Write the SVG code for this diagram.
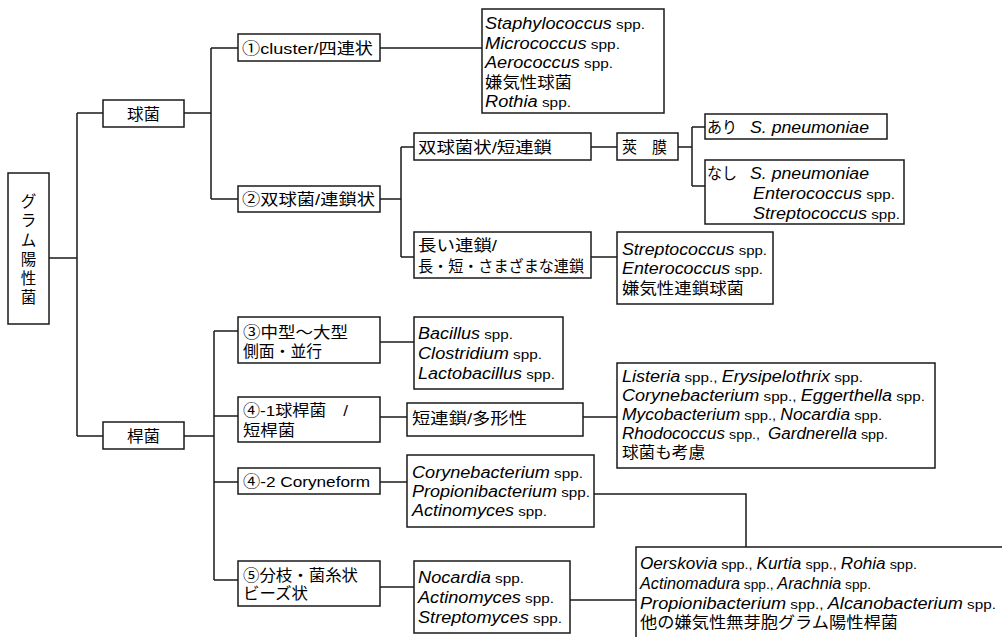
<svg xmlns="http://www.w3.org/2000/svg" width="1002" height="637" viewBox="0 0 1002 637">
<style>
.b{fill:#fff;stroke:#1a1a1a;stroke-width:1.5}
.c{fill:none;stroke:#1a1a1a;stroke-width:1.5}
.j{font-family:"Liberation Sans","Noto Sans CJK JP","Noto Sans CJK SC",sans-serif;font-size:15.5px;fill:#000}
.l{font-family:"Liberation Sans",Arial,sans-serif;font-size:16px;fill:#000}
.i{font-style:italic}
.s{font-size:13.5px;font-style:normal}
</style>
<rect x="0" y="0" width="1002" height="637" fill="#fff"/>
<g id="connectors" class="c">
<path d="M49,258H77M77,113V436M77,113H103M77,436H103"/>
<path d="M184,113H211M211,48V199M211,48H238M211,199H238"/>
<path d="M380,48H482"/>
<path d="M380,199H401M401,147V257M401,147H414M401,257H414"/>
<path d="M591,147H617M678,147H692M692,127V186M692,127H705M692,186H705"/>
<path d="M591,257H617"/>
<path d="M184,436H214M214,331V580M214,331H238M214,416H238M214,482H238M214,580H238"/>
<path d="M380,342H414"/>
<path d="M380,417H407M583,417H617"/>
<path d="M380,482H407"/>
<path d="M594,494H746V547"/>
<path d="M380,587H414"/>
<path d="M570,600H636"/>
</g>
<g id="n-root">
<rect class="b" x="8" y="173" width="41" height="151"/>
<text class="j" font-size="16" text-anchor="middle"><tspan x="28.5" y="207">グ</tspan><tspan x="28.5" y="226">ラ</tspan><tspan x="28.5" y="246">ム</tspan><tspan x="28.5" y="265">陽</tspan><tspan x="28.5" y="284">性</tspan><tspan x="28.5" y="303">菌</tspan></text>
</g>
<g id="n-kyukin">
<rect class="b" x="103" y="100" width="81" height="27"/>
<text class="j" x="127" y="119.5" textLength="33" lengthAdjust="spacingAndGlyphs">球菌</text>
</g>
<g id="n-kankin">
<rect class="b" x="103" y="422" width="81" height="27"/>
<text class="j" x="127" y="442" textLength="33" lengthAdjust="spacingAndGlyphs">桿菌</text>
</g>
<g id="n-c1">
<rect class="b" x="238" y="34" width="142" height="27"/>
<text class="j" x="242" y="54" textLength="131" lengthAdjust="spacingAndGlyphs">①cluster/四連状</text>
</g>
<g id="n-c1-res">
<rect class="b" x="482" y="9" width="182" height="104"/>
<text class="l" x="485" y="29" textLength="160" lengthAdjust="spacingAndGlyphs"><tspan class="i">Staphylococcus</tspan><tspan class="s"> spp.</tspan></text>
<text class="l" x="485" y="49" textLength="135" lengthAdjust="spacingAndGlyphs"><tspan class="i">Micrococcus</tspan><tspan class="s"> spp.</tspan></text>
<text class="l" x="485" y="68" textLength="128" lengthAdjust="spacingAndGlyphs"><tspan class="i">Aerococcus</tspan><tspan class="s"> spp.</tspan></text>
<text class="j" x="485" y="88" textLength="87" lengthAdjust="spacingAndGlyphs">嫌気性球菌</text>
<text class="l" x="485" y="107" textLength="86" lengthAdjust="spacingAndGlyphs"><tspan class="i">Rothia</tspan><tspan class="s"> spp.</tspan></text>
</g>
<g id="n-c2">
<rect class="b" x="238" y="186" width="142" height="26"/>
<text class="j" x="242" y="205" textLength="133" lengthAdjust="spacingAndGlyphs">②双球菌/連鎖状</text>
</g>
<g id="n-c2a">
<rect class="b" x="414" y="133" width="177" height="27"/>
<text class="j" x="418" y="153" textLength="134" lengthAdjust="spacingAndGlyphs">双球菌状/短連鎖</text>
</g>
<g id="n-kyomaku">
<rect class="b" x="617" y="133" width="61" height="27"/>
<text class="j" x="622" y="153" textLength="45" lengthAdjust="spacingAndGlyphs">莢　膜</text>
</g>
<g id="n-ari">
<rect class="b" x="705" y="114" width="182" height="25"/>
<text class="j" x="707" y="133" textLength="30" lengthAdjust="spacingAndGlyphs">あり</text>
<text class="l i" x="750" y="133" textLength="119" lengthAdjust="spacingAndGlyphs">S. pneumoniae</text>
</g>
<g id="n-nashi">
<rect class="b" x="705" y="160" width="199" height="64"/>
<text class="j" x="707" y="179" textLength="30" lengthAdjust="spacingAndGlyphs">なし</text>
<text class="l i" x="750" y="179" textLength="119" lengthAdjust="spacingAndGlyphs">S. pneumoniae</text>
<text class="l" x="753" y="199" textLength="142" lengthAdjust="spacingAndGlyphs"><tspan class="i">Enterococcus</tspan><tspan class="s"> spp.</tspan></text>
<text class="l" x="753" y="219" textLength="147" lengthAdjust="spacingAndGlyphs"><tspan class="i">Streptococcus</tspan><tspan class="s"> spp.</tspan></text>
</g>
<g id="n-c2b">
<rect class="b" x="414" y="232" width="177" height="46"/>
<text class="j" x="418" y="251" textLength="79" lengthAdjust="spacingAndGlyphs">長い連鎖/</text>
<text class="j" x="418" y="272" textLength="166" lengthAdjust="spacingAndGlyphs">長・短・さまざまな連鎖</text>
</g>
<g id="n-c2b-res">
<rect class="b" x="617" y="232" width="156" height="72"/>
<text class="l" x="622" y="255" textLength="145" lengthAdjust="spacingAndGlyphs"><tspan class="i">Streptococcus</tspan><tspan class="s"> spp.</tspan></text>
<text class="l" x="622" y="274" textLength="141" lengthAdjust="spacingAndGlyphs"><tspan class="i">Enterococcus</tspan><tspan class="s"> spp.</tspan></text>
<text class="j" x="622" y="294" textLength="122" lengthAdjust="spacingAndGlyphs">嫌気性連鎖球菌</text>
</g>
<g id="n-r3">
<rect class="b" x="238" y="317" width="142" height="46"/>
<text class="j" x="243" y="338" textLength="105" lengthAdjust="spacingAndGlyphs">③中型～大型</text>
<text class="j" x="243" y="357" textLength="79" lengthAdjust="spacingAndGlyphs">側面・並行</text>
</g>
<g id="n-r3-res">
<rect class="b" x="414" y="317" width="149" height="72"/>
<text class="l" x="418" y="339" textLength="95" lengthAdjust="spacingAndGlyphs"><tspan class="i">Bacillus</tspan><tspan class="s"> spp.</tspan></text>
<text class="l" x="418" y="359" textLength="124" lengthAdjust="spacingAndGlyphs"><tspan class="i">Clostridium</tspan><tspan class="s"> spp.</tspan></text>
<text class="l" x="418" y="379" textLength="137" lengthAdjust="spacingAndGlyphs"><tspan class="i">Lactobacillus</tspan><tspan class="s"> spp.</tspan></text>
</g>
<g id="n-r41">
<rect class="b" x="238" y="397" width="142" height="45"/>
<text class="j" x="243" y="416" textLength="105" lengthAdjust="spacingAndGlyphs">④-1球桿菌　/</text>
<text class="j" x="243" y="436" textLength="52" lengthAdjust="spacingAndGlyphs">短桿菌</text>
</g>
<g id="n-r41-mid">
<rect class="b" x="407" y="403" width="176" height="33"/>
<text class="j" x="412" y="424" textLength="115" lengthAdjust="spacingAndGlyphs">短連鎖/多形性</text>
</g>
<g id="n-r41-res">
<rect class="b" x="617" y="363" width="318" height="105"/>
<text class="l" x="622" y="382" textLength="241" lengthAdjust="spacingAndGlyphs"><tspan class="i">Listeria</tspan><tspan class="s"> spp., </tspan><tspan class="i">Erysipelothrix</tspan><tspan class="s"> spp.</tspan></text>
<text class="l" x="622" y="401" textLength="303" lengthAdjust="spacingAndGlyphs"><tspan class="i">Corynebacterium</tspan><tspan class="s"> spp., </tspan><tspan class="i">Eggerthella</tspan><tspan class="s"> spp.</tspan></text>
<text class="l" x="622" y="420" textLength="260" lengthAdjust="spacingAndGlyphs"><tspan class="i">Mycobacterium</tspan><tspan class="s"> spp., </tspan><tspan class="i">Nocardia</tspan><tspan class="s"> spp.</tspan></text>
<text class="l" x="622" y="439" textLength="266" lengthAdjust="spacingAndGlyphs" xml:space="preserve"><tspan class="i">Rhodococcus</tspan><tspan class="s"> spp.,  </tspan><tspan class="i">Gardnerella</tspan><tspan class="s"> spp.</tspan></text>
<text class="j" x="622" y="458" textLength="83" lengthAdjust="spacingAndGlyphs">球菌も考慮</text>
</g>
<g id="n-r42">
<rect class="b" x="238" y="468" width="142" height="26"/>
<text class="j" x="243" y="487" textLength="127" lengthAdjust="spacingAndGlyphs">④-2 Coryneform</text>
</g>
<g id="n-r42-res">
<rect class="b" x="407" y="455" width="187" height="72"/>
<text class="l" x="412" y="478" textLength="171" lengthAdjust="spacingAndGlyphs"><tspan class="i">Corynebacterium</tspan><tspan class="s"> spp.</tspan></text>
<text class="l" x="412" y="497" textLength="178" lengthAdjust="spacingAndGlyphs"><tspan class="i">Propionibacterium</tspan><tspan class="s"> spp.</tspan></text>
<text class="l" x="412" y="516" textLength="135" lengthAdjust="spacingAndGlyphs"><tspan class="i">Actinomyces</tspan><tspan class="s"> spp.</tspan></text>
</g>
<g id="n-r5">
<rect class="b" x="238" y="561" width="142" height="45"/>
<text class="j" x="243" y="581" textLength="115" lengthAdjust="spacingAndGlyphs">⑤分枝・菌糸状</text>
<text class="j" x="243" y="599" textLength="65" lengthAdjust="spacingAndGlyphs">ビーズ状</text>
</g>
<g id="n-r5-res">
<rect class="b" x="414" y="561" width="156" height="72"/>
<text class="l" x="418" y="583" textLength="106" lengthAdjust="spacingAndGlyphs"><tspan class="i">Nocardia</tspan><tspan class="s"> spp.</tspan></text>
<text class="l" x="418" y="603" textLength="136" lengthAdjust="spacingAndGlyphs"><tspan class="i">Actinomyces</tspan><tspan class="s"> spp.</tspan></text>
<text class="l" x="418" y="623" textLength="144" lengthAdjust="spacingAndGlyphs"><tspan class="i">Streptomyces</tspan><tspan class="s"> spp.</tspan></text>
</g>
<g id="n-other">
<rect class="b" x="636" y="547" width="400" height="120"/>
<text class="l" x="640" y="569" textLength="277" lengthAdjust="spacingAndGlyphs"><tspan class="i">Oerskovia</tspan><tspan class="s"> spp., </tspan><tspan class="i">Kurtia</tspan><tspan class="s"> spp., </tspan><tspan class="i">Rohia</tspan><tspan class="s"> spp.</tspan></text>
<text class="l" x="640" y="589" textLength="231" lengthAdjust="spacingAndGlyphs"><tspan class="i">Actinomadura</tspan><tspan class="s"> spp., </tspan><tspan class="i">Arachnia</tspan><tspan class="s"> spp.</tspan></text>
<text class="l" x="640" y="609" textLength="356" lengthAdjust="spacingAndGlyphs"><tspan class="i">Propionibacterium</tspan><tspan class="s"> spp., </tspan><tspan class="i">Alcanobacterium</tspan><tspan class="s"> spp.</tspan></text>
<text class="j" x="640" y="628" textLength="258" lengthAdjust="spacingAndGlyphs">他の嫌気性無芽胞グラム陽性桿菌</text>
</g>
</svg>
